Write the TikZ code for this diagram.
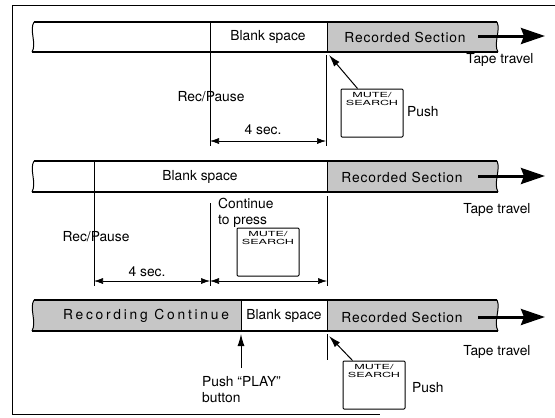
\documentclass[tikz,border=0pt]{standalone}
\usepackage{fontspec}
\setmainfont{TeX Gyre Heros}
\newfontfamily\keyfont[FakeStretch=1.8]{TeX Gyre Heros}
\newfontfamily\spacefont[LetterSpace=6]{TeX Gyre Heros}
\newfontfamily\widespacefont[LetterSpace=20]{TeX Gyre Heros}
\usetikzlibrary{arrows.meta}

\begin{document}
\begin{tikzpicture}[x=1pt,y=-1pt,
  txt/.style={font=\fontsize{13.8}{16}\selectfont,inner sep=0pt},
  shade/.style={fill=gray!45},
  edgeline/.style={line width=2.2pt},
  divider/.style={line width=0.9pt},
  guide/.style={line width=0.6pt},
  key/.style={draw,line width=1pt,rounded corners=1pt,minimum width=62pt,minimum height=48pt,inner sep=0pt},
  keytxt/.style={font=\keyfont\fontsize{7}{7.5}\selectfont,align=center,inner sep=0pt},
  dim/.style={line width=0.6pt,{Latex[length=9pt,width=6pt]}-{Latex[length=9pt,width=6pt]}},
  push/.style={line width=1pt,-{Latex[length=12pt,width=7pt]}},
  travel/.style={line width=3pt,-{Stealth[length=24pt,width=16pt,inset=3pt]}}]

  \useasboundingbox (0,0) rectangle (555,418);
  \draw[line width=0.8pt] (555,5) -- (12,5) -- (12,414) -- (380,414);

  % first tape
  \fill[shade] (327,22) -- (497,22) .. controls (501,30) and (493,44) .. (498,52) -- (327,52) -- cycle;
  \draw[edgeline] (34,22) -- (497,22);
  \draw[edgeline] (32,52) -- (498,52);
  \draw[line width=1pt] (34,22) .. controls (29,30) and (37,44) .. (32,52);
  \draw[line width=1pt] (497,22) .. controls (501,30) and (493,44) .. (498,52);
  \draw[divider] (210,22) -- (210,52);
  \draw[divider] (327,22) -- (327,52);
  \node[txt] (blank1) at (268,37) {Blank space};
  \node[txt] (rec1) at (405,37) {\spacefont Recorded Section};
  \coordinate (t1s) at (478,36);
  \coordinate (t1e) at (545,36);
  \draw[travel] (t1s) -- (t1e);
  \node[txt] (trav1) at (500,60) {Tape travel};

  \coordinate (g1a) at (210,52);
  \coordinate (g1b) at (210,146);
  \coordinate (g2a) at (326,55);
  \coordinate (g2b) at (326,146);
  \draw[guide] (g1a) -- (g1b);
  \draw[guide] (g2a) -- (g2b);
  \node[txt] (rp1) at (211,97) {Rec/Pause};
  \coordinate (d1a) at (210,141);
  \coordinate (d1b) at (326,141);
  \draw[dim] (d1a) -- (d1b);
  \node[txt] (sec1) at (263,130) {4 sec.};

  \node[key] (key1) at (372,113) {};
  \node[keytxt,anchor=north] (key1t) at ([yshift=-4pt]key1.north) {MUTE/\\SEARCH};
  \node[txt,anchor=west] (push1) at (407,112) {Push};
  \coordinate (tip1) at (329,55);
  \draw[push] ([xshift=17pt]key1.north west) -- (tip1);

  % second tape
  \fill[shade] (327,161) -- (497,161) .. controls (501,169) and (493,183) .. (498,192) -- (327,192) -- cycle;
  \draw[edgeline] (34,161) -- (497,161);
  \draw[edgeline] (32,192) -- (498,192);
  \draw[line width=1pt] (34,161) .. controls (29,169) and (37,183) .. (32,192);
  \draw[line width=1pt] (497,161) .. controls (501,169) and (493,183) .. (498,192);
  \draw[divider] (94,161) -- (94,192);
  \draw[divider] (327,161) -- (327,192);
  \node[txt] (blank2) at (200,177) {Blank space};
  \node[txt] (rec2) at (402,177) {\spacefont Recorded Section};
  \coordinate (t2s) at (478,176);
  \coordinate (t2e) at (545,176);
  \draw[travel] (t2s) -- (t2e);
  \node[txt] (trav2) at (497,210) {Tape travel};

  \coordinate (g3a) at (94,192);
  \coordinate (g3b) at (94,286);
  \coordinate (g4a) at (210,203);
  \coordinate (g4b) at (210,286);
  \coordinate (g5a) at (327,196);
  \coordinate (g5b) at (327,286);
  \draw[guide] (g3a) -- (g3b);
  \draw[guide] (g4a) -- (g4b);
  \draw[guide] (g5a) -- (g5b);
  \node[txt] (rp2) at (96,237) {Rec/Pause};
  \node[txt,anchor=north west,align=left] (cont) at (218,198) {Continue\\to press};
  \coordinate (d2a) at (94,281);
  \coordinate (d2b) at (210,281);
  \coordinate (d3b) at (327,281);
  \draw[dim] (d2a) -- (d2b);
  \draw[dim] (d2b) -- (d3b);
  \node[txt] (sec2) at (147,272) {4 sec.};

  \node[key] (key2) at (268,252) {};
  \node[keytxt,anchor=north] (key2t) at ([yshift=-4pt]key2.north) {MUTE/\\SEARCH};

  % third tape
  \fill[shade] (34,300) -- (241,300) -- (241,331) -- (32,331) .. controls (37,322) and (29,308) .. (34,300) -- cycle;
  \fill[shade] (327,300) -- (497,300) .. controls (501,308) and (493,322) .. (498,331) -- (327,331) -- cycle;
  \draw[edgeline] (34,300) -- (497,300);
  \draw[edgeline] (32,331) -- (498,331);
  \draw[line width=1pt] (34,300) .. controls (29,308) and (37,322) .. (32,331);
  \draw[line width=1pt] (497,300) .. controls (501,308) and (493,322) .. (498,331);
  \draw[divider] (241,300) -- (241,331);
  \draw[divider] (327,300) -- (327,331);
  \node[txt] (cont3) at (146,316) {\widespacefont Recording Continue};
  \node[txt] (blank3) at (284,316) {Blank space};
  \node[txt] (rec3) at (402,317) {\spacefont Recorded Section};
  \coordinate (t3s) at (478,317);
  \coordinate (t3e) at (545,317);
  \draw[travel] (t3s) -- (t3e);
  \node[txt] (trav3) at (497,352) {Tape travel};

  \coordinate (g6a) at (327,334);
  \coordinate (g6b) at (327,360);
  \draw[guide] (g6a) -- (g6b);
  \coordinate (play1) at (241,368);
  \coordinate (play2) at (241,334);
  \draw[push] (play1) -- (play2);
  \node[txt,anchor=west,align=left] (play) at (202,390) {Push ``PLAY''\\button};

  \node[key] (key3) at (374,385) {};
  \node[keytxt,anchor=north] (key3t) at ([yshift=-4pt]key3.north) {MUTE/\\SEARCH};
  \node[txt,anchor=west] (push3) at (412,388) {Push};
  \coordinate (tip3) at (329,336);
  \draw[push] ([xshift=10pt]key3.north west) -- (tip3);
\end{tikzpicture}
\end{document}
